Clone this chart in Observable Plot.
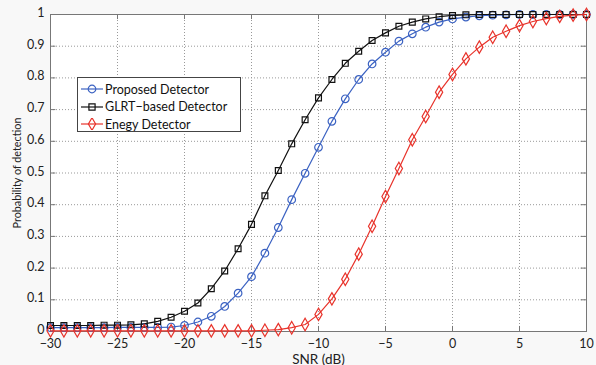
<!DOCTYPE html>
<html><head><meta charset="utf-8">
<script src="https://cdn.jsdelivr.net/npm/d3@7"></script>
<script src="https://cdn.jsdelivr.net/npm/@observablehq/plot@0.6"></script>
<style>
body{margin:0;background:#fff;}
#wrap{position:relative;width:596px;height:365px;background:#f8f8f8;font-family:Lato,"Open Sans",sans-serif;}
#legend{position:absolute;left:77px;top:77px;width:164px;height:55px;background:#fff;border:1px solid #444;box-sizing:border-box;}
.row{position:absolute;left:3px;height:18px;display:flex;align-items:center;font-size:12.5px;color:#111;white-space:nowrap;}
.row svg{margin-right:2px;}
</style></head><body><div id="wrap"><div id="legend"></div></div>
<script>
const snr = [-30,-29,-28,-27,-26,-25,-24,-23,-22,-21,-20,-19,-18,-17,-16,-15,-14,-13,-12,-11,-10,-9,-8,-7,-6,-5,-4,-3,-2,-1,0,1,2,3,4,5,6,7,8,9,10];
const proposed = [0.012,0.012,0.012,0.012,0.012,0.013,0.013,0.013,0.013,0.014,0.019,0.030,0.048,0.079,0.121,0.173,0.247,0.328,0.416,0.499,0.581,0.663,0.734,0.795,0.844,0.881,0.916,0.939,0.960,0.976,0.986,0.992,0.996,0.998,0.999,1,1,1,1,1,1];
const glrt = [0.019,0.019,0.019,0.019,0.020,0.020,0.021,0.024,0.032,0.045,0.064,0.090,0.135,0.191,0.261,0.338,0.428,0.508,0.592,0.668,0.737,0.795,0.846,0.884,0.918,0.942,0.963,0.976,0.986,0.993,0.997,0.999,1,1,1,1,1,1,1,1,1];
const energy = [0.002,0.002,0.002,0.002,0.002,0.002,0.002,0.002,0.002,0.002,0.002,0.002,0.002,0.002,0.002,0.002,0.004,0.006,0.012,0.022,0.054,0.103,0.165,0.244,0.332,0.426,0.514,0.605,0.678,0.755,0.811,0.860,0.897,0.928,0.947,0.965,0.978,0.987,0.994,0.998,1.0];
const seriesNames = ["Proposed Detector","GLRT\u2212based Detector","Enegy Detector"];
const seriesColors = ["#3b62c2","#111111","#e8332b"];
const seriesSymbols = ["circle","square","diamond"];
const xTicks = [-30,-25,-20,-15,-10,-5,0,5,10];
const yTicks = [0,0.1,0.2,0.3,0.4,0.5,0.6,0.7,0.8,0.9,1];

const allValues = [proposed, glrt, energy];
const rows = [];
allValues.forEach((vals, k) => vals.forEach((v, i) => rows.push({snr: snr[i], p: v, s: seriesNames[k]})));

const fmtX = d => d < 0 ? "\u2212" + (-d) : String(d);
const fmtY = d => String(+d.toFixed(1));

const lineMarks = seriesNames.flatMap((name, k) => {
  const data = rows.filter(r => r.s === name);
  return [
    Plot.line(data, {x: "snr", y: "p", stroke: seriesColors[k], strokeWidth: 1.2}),
    Plot.dot(data, {x: "snr", y: "p", stroke: seriesColors[k], symbol: () => seriesSymbols[k], r: k === 1 ? 3.3 : 3.8, strokeWidth: 1.2, fill: "none"})
  ];
});

const chart = Plot.plot({
  width: 596, height: 365,
  marginLeft: 50, marginRight: 10, marginTop: 14, marginBottom: 34,
  style: {background: "transparent", fontFamily: "Lato, 'Open Sans', sans-serif", fontSize: "12px", color: "#222", overflow: "visible"},
  x: {domain: [-30, 10]},
  y: {domain: [0, 1]},
  marks: [
    Plot.frame({fill: "white", stroke: "none"}),
    Plot.gridX(xTicks, {stroke: "#999", strokeOpacity: 1, strokeDasharray: "1,2"}),
    Plot.gridY(yTicks, {stroke: "#999", strokeOpacity: 1, strokeDasharray: "1,2"}),
    Plot.ruleX(xTicks, {y1: 0, y2: 0.016, stroke: "#777"}),
    Plot.ruleX(xTicks, {y1: 1, y2: 0.984, stroke: "#777"}),
    Plot.ruleY(yTicks, {x1: -30, x2: -29.6, stroke: "#777"}),
    Plot.ruleY(yTicks, {x1: 10, x2: 9.6, stroke: "#777"}),
    Plot.frame({stroke: "#777"}),
    Plot.axisX(xTicks, {tickSize: 0, tickPadding: 8, tickFormat: fmtX, fontSize: 12.5, label: "SNR (dB)", labelAnchor: "center", labelArrow: "none", labelOffset: 32}),
    Plot.axisY(yTicks, {tickSize: 0, tickPadding: 6, dy: -1.5, tickFormat: fmtY, fontSize: 12.5, label: "Probability of detection", labelAnchor: "center", labelArrow: "none", labelOffset: 37}),
    ...lineMarks
  ]
});
document.getElementById("wrap").prepend(chart);
d3.select(chart).selectAll('g[aria-label="x-axis label"]').attr("font-size", 13.5);
d3.select(chart).selectAll('g[aria-label="y-axis label"]').attr("font-size", 10.8);

// legend
const legend = document.getElementById("legend");
seriesNames.forEach((name, k) => {
  const row = document.createElement("div");
  row.className = "row";
  row.style.top = (2 + k * 17.5) + "px";
  const sym = d3.symbol(k === 0 ? d3.symbolCircle : k === 1 ? d3.symbolSquare : d3.symbolDiamond, k === 1 ? 38 : 45)();
  row.innerHTML = `<svg width="22" height="12"><line x1="0" x2="22" y1="6" y2="6" stroke="${seriesColors[k]}" stroke-width="1.2"/><path d="${sym}" transform="translate(11,6)" fill="none" stroke="${seriesColors[k]}" stroke-width="1.2"/></svg><span>${name}</span>`;
  legend.appendChild(row);
});
</script>
</body></html>
